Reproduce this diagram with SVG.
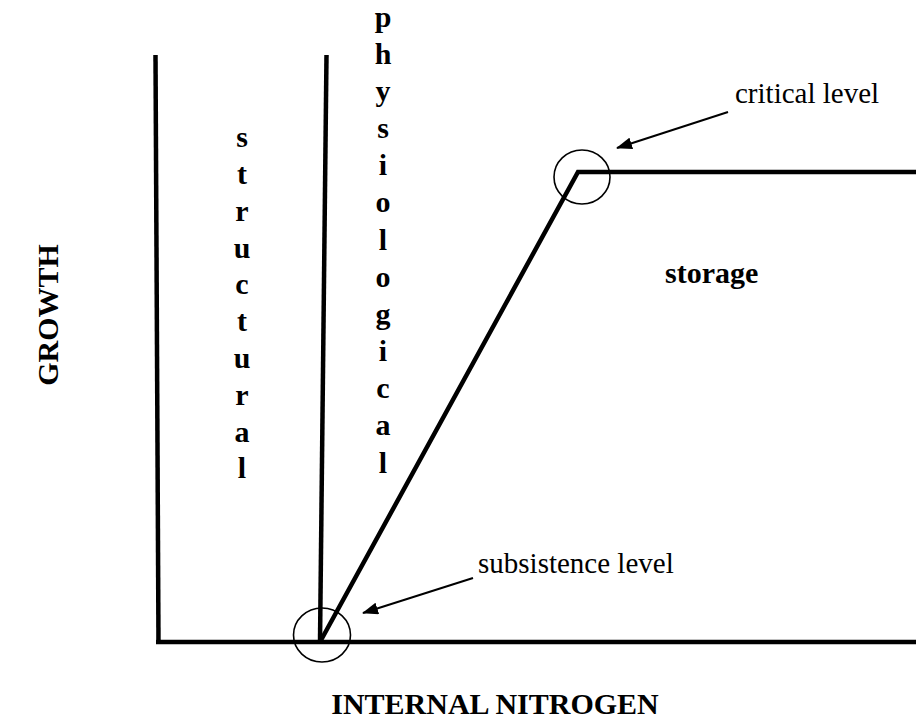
<svg xmlns="http://www.w3.org/2000/svg" width="916" height="724" viewBox="0 0 916 724">
<style>
.axis{stroke:#000;stroke-width:4.5;fill:none;stroke-linecap:butt;stroke-linejoin:miter}
.ring{stroke:#000;stroke-width:1.6;fill:none}
.ptr{stroke:#000;stroke-width:2;fill:none}
.lab{font-family:"Liberation Serif","Times New Roman",serif;font-size:29px;fill:#000}
.bold{font-family:"Liberation Serif","Times New Roman",serif;font-size:30px;font-weight:bold;fill:#000}
.vt{font-family:"Liberation Serif","Times New Roman",serif;font-size:30px;font-weight:bold;fill:#000;text-anchor:middle}
</style>
<defs>
<marker id="ah" markerWidth="16" markerHeight="12" refX="15" refY="6" orient="auto" markerUnits="userSpaceOnUse">
<path d="M0,0 L16,6 L0,12 Z" fill="#000"/>
</marker>
</defs>
<rect width="916" height="724" fill="#fff"/>
<g id="connectors">
<line class="axis" x1="155.5" y1="55" x2="158.5" y2="644"/>
<line class="axis" x1="156" y1="642" x2="916" y2="642"/>
<line class="axis" x1="326.5" y1="55" x2="320" y2="642"/>
<polyline class="axis" points="320,642 578,172 916,172"/>
<line class="ptr" x1="728" y1="112" x2="617" y2="148" marker-end="url(#ah)"/>
<line class="ptr" x1="473" y1="578" x2="363" y2="613" marker-end="url(#ah)"/>
</g>
<g id="critical">
<ellipse class="ring" cx="582" cy="177" rx="28" ry="27"/>
<text class="lab" x="735" y="103">critical level</text>
</g>
<g id="subsistence">
<ellipse class="ring" cx="322" cy="635" rx="28.5" ry="27"/>
<text class="lab" x="478" y="573">subsistence level</text>
</g>
<g id="storage">
<text class="bold" x="665" y="283">storage</text>
</g>
<g id="structural">
<text class="vt" x="242" y="147">s</text>
<text class="vt" x="242" y="184">t</text>
<text class="vt" x="242" y="221">r</text>
<text class="vt" x="242" y="258">u</text>
<text class="vt" x="242" y="294">c</text>
<text class="vt" x="242" y="331">t</text>
<text class="vt" x="242" y="368">u</text>
<text class="vt" x="242" y="405">r</text>
<text class="vt" x="242" y="442">a</text>
<text class="vt" x="242" y="478">l</text>
</g>
<g id="physiological">
<text class="vt" x="383" y="27">p</text>
<text class="vt" x="383" y="64">h</text>
<text class="vt" x="383" y="101">y</text>
<text class="vt" x="383" y="138">s</text>
<text class="vt" x="383" y="175">i</text>
<text class="vt" x="383" y="212">o</text>
<text class="vt" x="383" y="250">l</text>
<text class="vt" x="383" y="287">o</text>
<text class="vt" x="383" y="324">g</text>
<text class="vt" x="383" y="361">i</text>
<text class="vt" x="383" y="398">c</text>
<text class="vt" x="383" y="435">a</text>
<text class="vt" x="383" y="473">l</text>
</g>
<g id="yaxis">
<text class="bold" text-anchor="middle" transform="translate(58,315) rotate(-90)">GROWTH</text>
</g>
<g id="xaxis">
<text class="bold" text-anchor="middle" x="495" y="714">INTERNAL NITROGEN</text>
</g>
</svg>
